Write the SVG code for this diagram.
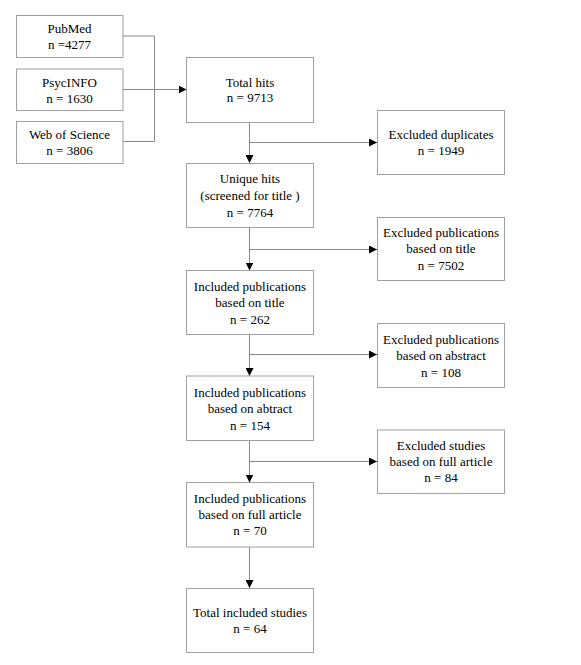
<svg xmlns="http://www.w3.org/2000/svg" width="581" height="665" viewBox="0 0 581 665">
<style>
.box{fill:#fff;stroke:#a0a0a0;stroke-width:1}
.t{font-family:"Liberation Serif","Times New Roman",serif;font-size:13px;fill:#000;text-anchor:middle}
.c{fill:none;stroke:#888;stroke-width:1}
</style>
<defs>
<marker id="ah" markerWidth="8" markerHeight="8" refX="8" refY="4" orient="auto" markerUnits="userSpaceOnUse">
<path d="M0,0 L8,4 L0,8 Z" fill="#000"/>
</marker>
</defs>
<rect width="581" height="665" fill="#fff"/>
<g id="connectors">
<path class="c" d="M123,36 H154.5 V141.5 H123"/>
<path class="c" d="M123,89.5 H186.5" marker-end="url(#ah)"/>
<path class="c" d="M249.5,122.5 V163" marker-end="url(#ah)"/>
<path class="c" d="M249.5,142.5 H377" marker-end="url(#ah)"/>
<path class="c" d="M249.5,227.5 V270.5" marker-end="url(#ah)"/>
<path class="c" d="M249.5,249.5 H377" marker-end="url(#ah)"/>
<path class="c" d="M249.5,334.5 V376" marker-end="url(#ah)"/>
<path class="c" d="M249.5,354.5 H377" marker-end="url(#ah)"/>
<path class="c" d="M249.5,440.5 V482.5" marker-end="url(#ah)"/>
<path class="c" d="M249.5,461.5 H377" marker-end="url(#ah)"/>
<path class="c" d="M249.5,547 V588" marker-end="url(#ah)"/>
</g>
<g id="pubmed"><rect class="box" x="16.5" y="15.5" width="106.5" height="42"/>
<text class="t" x="69.5" y="33">PubMed</text><text class="t" x="69.5" y="49">n =4277</text></g>
<g id="psycinfo"><rect class="box" x="16.5" y="69" width="106.5" height="41.5"/>
<text class="t" x="69.5" y="86.5">PsycINFO</text><text class="t" x="69.5" y="102.5">n = 1630</text></g>
<g id="wos"><rect class="box" x="16.5" y="121.5" width="106.5" height="42"/>
<text class="t" x="69.5" y="139">Web of Science</text><text class="t" x="69.5" y="155">n = 3806</text></g>
<g id="total-hits"><rect class="box" x="186.5" y="57.5" width="127" height="65"/>
<text class="t" x="250" y="86.5">Total hits</text><text class="t" x="250" y="102">n = 9713</text></g>
<g id="excluded-duplicates"><rect class="box" x="377.5" y="110.5" width="127" height="64"/>
<text class="t" x="441" y="138.5">Excluded duplicates</text><text class="t" x="441" y="155">n = 1949</text></g>
<g id="unique-hits"><rect class="box" x="186.5" y="163.5" width="127" height="64"/>
<text class="t" x="250" y="183">Unique hits</text><text class="t" x="250" y="199.5">(screened for title )</text><text class="t" x="250" y="216.5">n = 7764</text></g>
<g id="excluded-title"><rect class="box" x="377.5" y="217.5" width="127" height="63"/>
<text class="t" x="441" y="237">Excluded publications</text><text class="t" x="441" y="253">based on title</text><text class="t" x="441" y="270">n = 7502</text></g>
<g id="included-title"><rect class="box" x="186.5" y="270.5" width="127" height="64"/>
<text class="t" x="250" y="290.5">Included publications</text><text class="t" x="250" y="307">based on title</text><text class="t" x="250" y="324">n = 262</text></g>
<g id="excluded-abstract"><rect class="box" x="377.5" y="323.5" width="127" height="64"/>
<text class="t" x="441" y="343.5">Excluded publications</text><text class="t" x="441" y="360">based on abstract</text><text class="t" x="441" y="377">n = 108</text></g>
<g id="included-abstract"><rect class="box" x="186.5" y="376" width="127" height="64.5"/>
<text class="t" x="250" y="396.5">Included publications</text><text class="t" x="250" y="413">based on abtract</text><text class="t" x="250" y="429.5">n = 154</text></g>
<g id="excluded-full"><rect class="box" x="377.5" y="430" width="127" height="63.5"/>
<text class="t" x="441" y="450">Excluded studies</text><text class="t" x="441" y="466">based on full article</text><text class="t" x="441" y="482">n = 84</text></g>
<g id="included-full"><rect class="box" x="186.5" y="482.5" width="127" height="64.5"/>
<text class="t" x="250" y="503">Included publications</text><text class="t" x="250" y="518.5">based on full article</text><text class="t" x="250" y="535">n = 70</text></g>
<g id="total-included"><rect class="box" x="186.5" y="588.5" width="127" height="64"/>
<text class="t" x="250" y="616.5">Total included studies</text><text class="t" x="250" y="633">n = 64</text></g>
</svg>
